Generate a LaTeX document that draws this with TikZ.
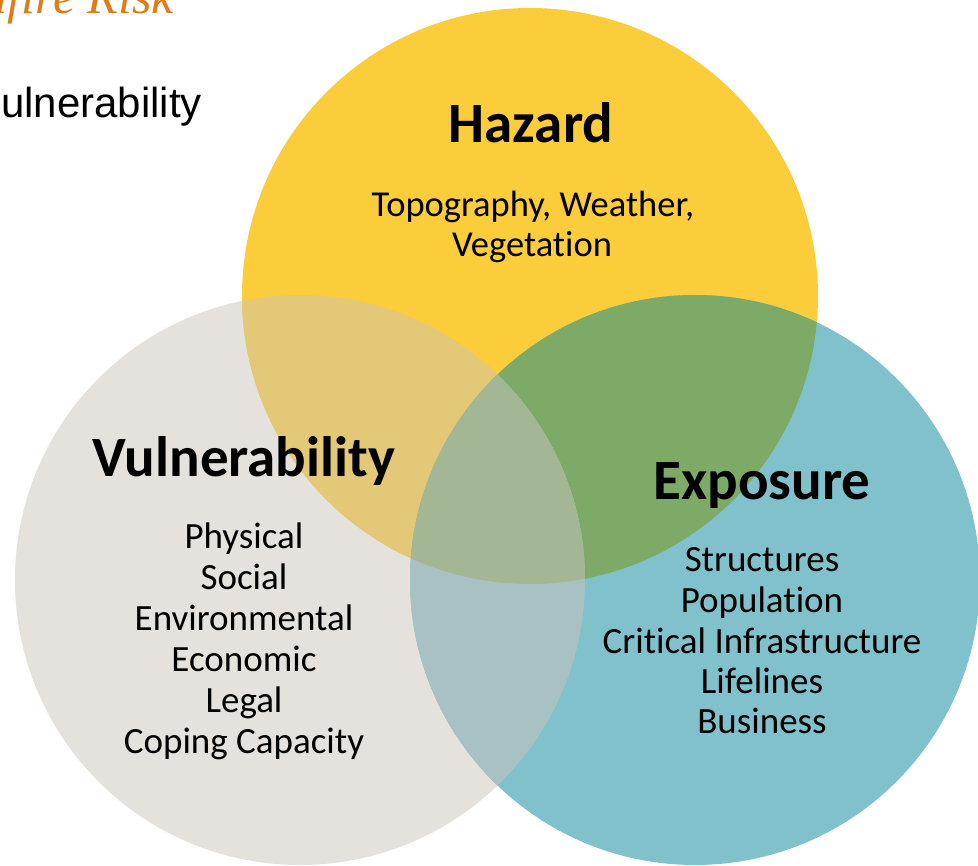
\documentclass[tikz,border=0pt]{standalone}
\usepackage{fontspec}
\setmainfont{Carlito}[Ligatures={NoCommon,NoRequired,NoContextual}]
\newfontfamily\arialfont{Liberation Sans}
\newfontfamily\timesfont{Liberation Serif}
\definecolor{cyel}{HTML}{FBCD3B}
\definecolor{cgry}{HTML}{E5E1DD}
\definecolor{cteal}{HTML}{80C1CC}
\definecolor{cyg}{HTML}{E3C878}
\definecolor{cyt}{HTML}{7DAB67}
\definecolor{cgt}{HTML}{A8C2C4}
\definecolor{cygt}{HTML}{A4B795}
\definecolor{corange}{HTML}{E07B16}
\tikzset{
  ttl/.style={font=\bfseries\fontsize{57}{60}\selectfont, anchor=base, inner sep=0pt},
  itm/.style={font=\fontsize{37}{40}\selectfont, anchor=base, inner sep=0pt},
  hitm/.style={font=\fontsize{36.5}{40}\selectfont, anchor=base, inner sep=0pt}
}
\begin{document}
\begin{tikzpicture}[x=1pt,y=-1pt]
\useasboundingbox (0,0) rectangle (978,866);
\clip (0,0) rectangle (978,866);
\coordinate (H) at (530,296);
\coordinate (V) at (300,580);
\coordinate (E) at (695,580);
% base circles
\fill[cgry] (V) circle[radius=285pt];
\fill[cyel] (H) circle[radius=288pt];
\fill[cteal] (E) circle[radius=285pt];
% pairwise overlaps
\begin{scope}
  \clip (H) circle[radius=288pt];
  \fill[cyg] (V) circle[radius=285pt];
\end{scope}
\begin{scope}
  \clip (H) circle[radius=288pt];
  \fill[cyt] (E) circle[radius=285pt];
\end{scope}
\begin{scope}
  \clip (V) circle[radius=285pt];
  \fill[cgt] (E) circle[radius=285pt];
\end{scope}
% triple overlap
\begin{scope}
  \clip (H) circle[radius=288pt];
  \clip (V) circle[radius=285pt];
  \fill[cygt] (E) circle[radius=285pt];
\end{scope}
% corner texts
\node[font=\timesfont\itshape\fontsize{50}{55}\selectfont, text=corange, anchor=base east, inner sep=0pt] (title) at (174,14) {Wildfire Risk};
\node[font=\arialfont\fontsize{42}{48}\selectfont, anchor=base west, inner sep=0pt] (sub) at (1,118) {ulnerability};
% Hazard
\node[ttl] (haz) at (531,143) {Hazard};
\node[hitm] (haz1) at (533,217) {Topography, Weather,};
\node[hitm] (haz2) at (532,257) {Vegetation};
% Vulnerability
\node[ttl] (vul) at (244,477) {Vulnerability};
\node[itm] (vul1) at (244,548) {Physical};
\node[itm] (vul2) at (244,589) {Social};
\node[itm] (vul3) at (244,630) {Environmental};
\node[itm] (vul4) at (244,671) {Economic};
\node[itm] (vul5) at (244,712) {Legal};
\node[itm] (vul6) at (244,753) {Coping Capacity};
% Exposure
\node[ttl] (exp) at (762,500) {Exposure};
\node[itm] (exp1) at (762,572) {Structures};
\node[itm] (exp2) at (762,612) {Population};
\node[itm] (exp3) at (762,653) {Critical Infrastructure};
\node[itm] (exp4) at (762,693) {Lifelines};
\node[itm] (exp5) at (762,733) {Business};
\end{tikzpicture}
\end{document}
